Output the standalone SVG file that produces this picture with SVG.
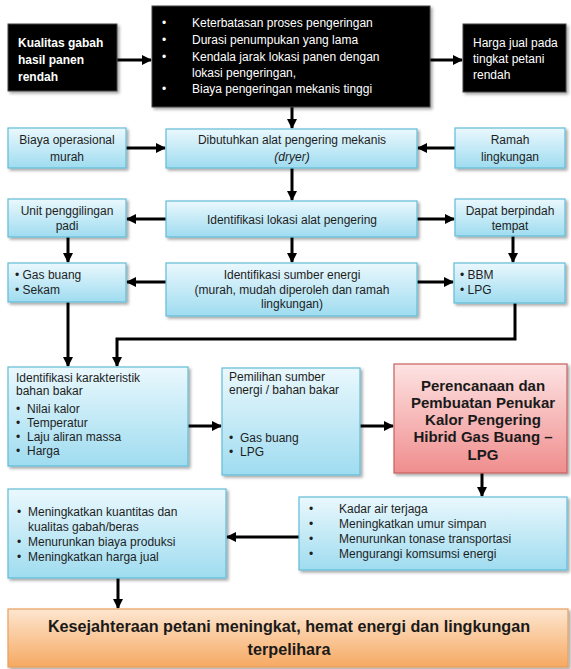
<svg xmlns="http://www.w3.org/2000/svg" width="571" height="669" viewBox="0 0 571 669">
<defs>
<linearGradient id="gBlue" x1="0" y1="0" x2="0" y2="1">
<stop offset="0" stop-color="#eaf8fd"/>
<stop offset="1" stop-color="#9fdcf0"/>
</linearGradient>
<linearGradient id="gRed" x1="0" y1="0" x2="0" y2="1">
<stop offset="0" stop-color="#fde3e3"/>
<stop offset="1" stop-color="#f08d8d"/>
</linearGradient>
<linearGradient id="gOrange" x1="0" y1="0" x2="0" y2="1">
<stop offset="0" stop-color="#fde6d0"/>
<stop offset="1" stop-color="#f6a962"/>
</linearGradient>
<filter id="sh" x="-10%" y="-10%" width="130%" height="140%">
<feDropShadow dx="2" dy="2" stdDeviation="1.5" flood-color="#000" flood-opacity="0.35"/>
</filter>
<marker id="ah" markerUnits="userSpaceOnUse" markerWidth="10" markerHeight="10" refX="9" refY="5" orient="auto">
<path d="M0,0 L10,5 L0,10 z" fill="#000"/>
</marker>
<style>
.blk{fill:#000;stroke:#444;stroke-width:1;filter:url(#sh)}
.blu{fill:url(#gBlue);stroke:#62bcd8;stroke-width:1.2;filter:url(#sh)}
.red{fill:url(#gRed);stroke:#c9605f;stroke-width:1.2;filter:url(#sh)}
.org{fill:url(#gOrange);stroke:#e8a060;stroke-width:1.2;filter:url(#sh)}
text{font-family:"Liberation Sans",Arial,sans-serif;font-size:12px;fill:#1e1e1e}
.w{fill:#fff}
.wb{fill:#fff;font-weight:bold}
.c{text-anchor:middle}
.rb{font-weight:bold;font-size:15px;fill:#1a1a1a;text-anchor:middle}
.ob{font-weight:bold;font-size:16.2px;fill:#1a1a1a;text-anchor:middle}
.con{fill:none;stroke:#000;stroke-width:3}
</style>
</defs>

<g id="connectors">
<line class="con" x1="117" y1="60" x2="151" y2="60" marker-end="url(#ah)"/>
<line class="con" x1="430" y1="60" x2="462" y2="60" marker-end="url(#ah)"/>
<line class="con" x1="292" y1="107" x2="292" y2="128" marker-end="url(#ah)"/>
<line class="con" x1="126" y1="148" x2="165" y2="148" marker-end="url(#ah)"/>
<line class="con" x1="455" y1="148" x2="418" y2="148" marker-end="url(#ah)"/>
<line class="con" x1="292" y1="168" x2="292" y2="200" marker-end="url(#ah)"/>
<line class="con" x1="166" y1="219" x2="127" y2="219" marker-end="url(#ah)"/>
<line class="con" x1="417" y1="219" x2="454" y2="219" marker-end="url(#ah)"/>
<line class="con" x1="68" y1="237" x2="68" y2="262" marker-end="url(#ah)"/>
<line class="con" x1="292" y1="237" x2="292" y2="262" marker-end="url(#ah)"/>
<line class="con" x1="513" y1="236" x2="513" y2="262" marker-end="url(#ah)"/>
<line class="con" x1="166" y1="282" x2="127" y2="282" marker-end="url(#ah)"/>
<line class="con" x1="417" y1="282" x2="453" y2="282" marker-end="url(#ah)"/>
<line class="con" x1="68" y1="302" x2="68" y2="366" marker-end="url(#ah)"/>
<polyline class="con" points="515,303 515,339 117,339 117,366" marker-end="url(#ah)"/>
<line class="con" x1="188" y1="426" x2="221" y2="426" marker-end="url(#ah)"/>
<line class="con" x1="360" y1="426" x2="393" y2="426" marker-end="url(#ah)"/>
<line class="con" x1="482" y1="473" x2="482" y2="496" marker-end="url(#ah)"/>
<line class="con" x1="299" y1="537" x2="227" y2="537" marker-end="url(#ah)"/>
<line class="con" x1="118" y1="578" x2="118" y2="608" marker-end="url(#ah)"/>
</g>

<g id="n-kualitas">
<rect class="blk" x="8" y="24" width="109" height="67"/>
<text class="wb" x="18" y="47">Kualitas  gabah</text>
<text class="wb" x="18" y="64">hasil  panen</text>
<text class="wb" x="18" y="81">rendah</text>
</g>

<g id="n-masalah">
<rect class="blk" x="152" y="6" width="278" height="101"/>
<text class="w" x="162" y="27">•</text><text class="w" x="192" y="27">Keterbatasan  proses pengeringan</text>
<text class="w" x="162" y="44">•</text><text class="w" x="192" y="44">Durasi penumpukan  yang lama</text>
<text class="w" x="162" y="61">•</text><text class="w" x="192" y="61">Kendala jarak lokasi panen dengan</text>
<text class="w" x="192" y="77">lokasi pengeringan,</text>
<text class="w" x="162" y="93">•</text><text class="w" x="192" y="93">Biaya pengeringan mekanis tinggi</text>
</g>

<g id="n-harga">
<rect class="blk" x="463" y="24" width="103" height="68"/>
<text class="w" x="473" y="47">Harga jual pada</text>
<text class="w" x="473" y="63">tingkat petani</text>
<text class="w" x="473" y="79">rendah</text>
</g>

<g id="n-biaya">
<rect class="blu" x="8" y="128" width="118" height="40"/>
<text class="c" x="67" y="144">Biaya operasional</text>
<text class="c" x="67" y="161">murah</text>
</g>

<g id="n-dibutuhkan">
<rect class="blu" x="166" y="129" width="251" height="39"/>
<text class="c" x="292" y="144">Dibutuhkan  alat pengering mekanis</text>
<text class="c" x="292" y="161" font-style="italic">(dryer)</text>
</g>

<g id="n-ramah">
<rect class="blu" x="455" y="128" width="110" height="40"/>
<text class="c" x="510" y="144">Ramah</text>
<text class="c" x="510" y="161">lingkungan</text>
</g>

<g id="n-unit">
<rect class="blu" x="8" y="199" width="118" height="38"/>
<text class="c" x="67" y="215">Unit penggilingan</text>
<text class="c" x="67" y="230">padi</text>
</g>

<g id="n-lokasi">
<rect class="blu" x="166" y="201" width="251" height="36"/>
<text class="c" x="292" y="224">Identifikasi lokasi alat pengering</text>
</g>

<g id="n-dapat">
<rect class="blu" x="455" y="199" width="110" height="37"/>
<text class="c" x="510" y="215">Dapat berpindah</text>
<text class="c" x="510" y="230">tempat</text>
</g>

<g id="n-gasbuang">
<rect class="blu" x="8" y="263" width="118" height="39"/>
<text x="15" y="279">•  Gas  buang</text>
<text x="15" y="294">•  Sekam</text>
</g>

<g id="n-sumber">
<rect class="blu" x="166" y="263" width="251" height="53"/>
<text class="c" x="292" y="279">Identifikasi sumber energi</text>
<text class="c" x="292" y="294">(murah,  mudah  diperoleh  dan  ramah</text>
<text class="c" x="292" y="308">lingkungan)</text>
</g>

<g id="n-bbm">
<rect class="blu" x="454" y="263" width="111" height="40"/>
<text x="460" y="279">•  BBM</text>
<text x="460" y="294">•  LPG</text>
</g>

<g id="n-karakteristik">
<rect class="blu" x="8" y="367" width="180" height="99"/>
<text x="16" y="382">Identifikasi karakteristik</text>
<text x="16" y="395">bahan bakar</text>
<text x="16" y="413">•</text><text x="27" y="413">Nilai kalor</text>
<text x="16" y="427">•</text><text x="27" y="427">Temperatur</text>
<text x="16" y="441">•</text><text x="27" y="441">Laju aliran massa</text>
<text x="16" y="455">•</text><text x="27" y="455">Harga</text>
</g>

<g id="n-pemilihan">
<rect class="blu" x="222" y="368" width="138" height="107"/>
<text x="229" y="381">Pemilihan sumber</text>
<text x="229" y="394">energi / bahan bakar</text>
<text x="229" y="442">•</text><text x="240" y="442">Gas buang</text>
<text x="229" y="456">•</text><text x="240" y="456">LPG</text>
</g>

<g id="n-perencanaan">
<rect class="red" x="394" y="364" width="173" height="109"/>
<text class="rb" x="483" y="391">Perencanaan dan</text>
<text class="rb" x="483" y="408">Pembuatan Penukar</text>
<text class="rb" x="483" y="425">Kalor Pengering</text>
<text class="rb" x="483" y="442">Hibrid  Gas Buang –</text>
<text class="rb" x="483" y="460">LPG</text>
</g>

<g id="n-kadar">
<rect class="blu" x="299" y="497" width="268" height="73"/>
<text x="309" y="513">•</text><text x="339" y="513">Kadar air terjaga</text>
<text x="309" y="528">•</text><text x="339" y="528">Meningkatkan  umur simpan</text>
<text x="309" y="543">•</text><text x="339" y="543">Menurunkan  tonase transportasi</text>
<text x="309" y="558">•</text><text x="339" y="558">Mengurangi  komsumsi  energi</text>
</g>

<g id="n-meningkatkan">
<rect class="blu" x="8" y="489" width="218" height="89"/>
<text x="17" y="516">•</text><text x="28" y="516">Meningkatkan  kuantitas  dan</text>
<text x="28" y="531">kualitas  gabah/beras</text>
<text x="17" y="546">•</text><text x="28" y="546">Menurunkan  biaya produksi</text>
<text x="17" y="561">•</text><text x="28" y="561">Meningkatkan  harga jual</text>
</g>

<g id="n-kesejahteraan">
<rect class="org" x="8" y="609" width="560" height="58"/>
<text class="ob" x="289" y="632">Kesejahteraan  petani  meningkat,  hemat  energi  dan  lingkungan</text>
<text class="ob" x="289" y="655">terpelihara</text>
</g>
</svg>
